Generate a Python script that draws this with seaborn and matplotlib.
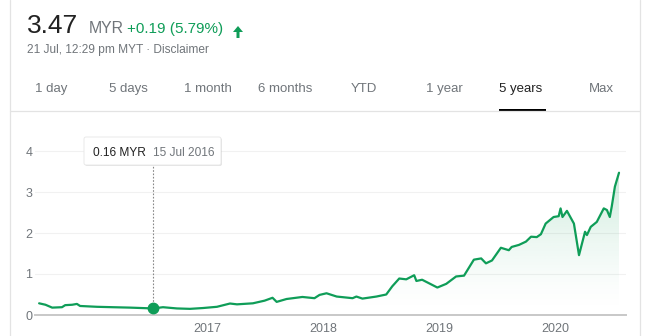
import numpy as np
import pandas as pd
import matplotlib
matplotlib.use("Agg")
import matplotlib.pyplot as plt
import matplotlib.dates as mdates
import matplotlib.transforms as mtransforms
from matplotlib.patches import FancyBboxPatch, FancyArrow
import seaborn as sns

# ---------------- data ----------------
dates = [
    "2015-07-22", "2015-08-11", "2015-09-01", "2015-10-02", "2015-10-12", "2015-11-03",
    "2015-11-18", "2015-11-28", "2016-01-20", "2016-03-10", "2016-05-03", "2016-07-15",
    "2016-08-15", "2016-09-28", "2016-11-08", "2016-12-19", "2017-02-01", "2017-03-14",
    "2017-04-05", "2017-05-25", "2017-07-01", "2017-07-26", "2017-08-08", "2017-09-08",
    "2017-10-28", "2017-12-05", "2017-12-21", "2018-01-12", "2018-02-13", "2018-04-04",
    "2018-04-16", "2018-05-05", "2018-06-18", "2018-07-19", "2018-08-07", "2018-08-29",
    "2018-09-20", "2018-10-15", "2018-10-22", "2018-11-09", "2018-12-27", "2019-01-24",
    "2019-02-24", "2019-03-21", "2019-04-21", "2019-05-14", "2019-05-29", "2019-06-17",
    "2019-07-15", "2019-08-09", "2019-08-18", "2019-09-10", "2019-10-02", "2019-10-18",
    "2019-11-05", "2019-11-18", "2019-12-03", "2019-12-28", "2020-01-13", "2020-01-19",
    "2020-01-25", "2020-02-08", "2020-03-01", "2020-03-17", "2020-04-05", "2020-04-11",
    "2020-04-23", "2020-05-12", "2020-06-03", "2020-06-13", "2020-06-22", "2020-06-28",
    "2020-07-08", "2020-07-21",
]
prices = [
    0.285, 0.25, 0.18, 0.19, 0.24, 0.25,
    0.27, 0.22, 0.20, 0.19, 0.18, 0.16,
    0.19, 0.16, 0.15, 0.17, 0.20, 0.28,
    0.26, 0.285, 0.35, 0.42, 0.32, 0.39,
    0.44, 0.41, 0.49, 0.53, 0.45, 0.41,
    0.45, 0.40, 0.45, 0.50, 0.70, 0.89,
    0.87, 0.97, 0.83, 0.86, 0.67, 0.76,
    0.94, 0.96, 1.35, 1.38, 1.26, 1.33,
    1.64, 1.58, 1.66, 1.71, 1.79, 1.91,
    1.90, 1.97, 2.23, 2.39, 2.41, 2.60,
    2.39, 2.54, 2.23, 1.46, 2.03, 1.95,
    2.15, 2.27, 2.60, 2.56, 2.39, 2.64,
    3.13, 3.47,
]
y_ticks = [0, 1, 2, 3, 4]
year_labels = ["2017", "2018", "2019", "2020"]
tabs = ["1 day", "5 days", "1 month", "6 months", "YTD", "1 year", "5 years", "Max"]
selected_tab = "5 years"
quote_price = "3.47"
quote_ccy = "MYR"
quote_change = "+0.19 (5.79%)"
quote_time = "21 Jul, 12:29 pm MYT · Disclaimer"
tip_date = "2016-07-15"
tip_value = 0.16
tip_value_text = "0.16 MYR"
tip_date_text = "15 Jul 2016"

# ---------------- style ----------------
W, H = 646, 336
GREEN = "#0f9d58"
GREY = "#70757a"
DARK = "#222222"

sns.set_theme(style="white")
plt.rcParams["font.family"] = ["Liberation Sans", "DejaVu Sans"]

fig = plt.figure(figsize=(W / 100, H / 100), dpi=100)
pix = mtransforms.Affine2D().scale(1 / W, -1 / H).translate(0, 1) + fig.transFigure

# axes: x 35..626 px, y 140..315 px
ax_l, ax_r, ax_t, ax_b = 35, 626, 140, 315
ax = fig.add_axes([ax_l / W, 1 - ax_b / H, (ax_r - ax_l) / W, (ax_b - ax_t) / H])

df = pd.DataFrame({"date": pd.to_datetime(dates), "price": prices})
xnum = mdates.date2num(df["date"])

ytop = (ax_b - ax_t) / 41.0
xlim = (pd.Timestamp("2015-07-09"), pd.Timestamp("2020-08-12"))

# gradient fill under the line
poly = ax.fill_between(df["date"], df["price"], 0, color="none", lw=0)
ny = 300
yy = np.linspace(0, ytop, ny)
rgba = np.zeros((ny, 1, 4))
rgba[..., :3] = matplotlib.colors.to_rgb(GREEN)
rgba[:, 0, 3] = 0.22 * np.clip(yy / 3.6, 0, 1) ** 1.5
im = ax.imshow(rgba, extent=[xnum[0], xnum[-1], 0, ytop], origin="lower",
               aspect="auto", zorder=1, interpolation="bilinear")
im.set_clip_path(poly.get_paths()[0], transform=ax.transData)

sns.lineplot(data=df, x="date", y="price", ax=ax, color=GREEN, linewidth=1.6, zorder=3)

ax.set_xlim(*xlim)
ax.set_ylim(0, ytop)

# grid
for v in y_ticks[1:]:
    ax.axhline(v, color="#f1f1f1", lw=0.8, zorder=0)
ax.set_yticks(y_ticks)
ax.set_yticklabels([str(v) for v in y_ticks])
ax.set_xticks([pd.Timestamp(f"{y}-01-01") for y in year_labels])
ax.set_xticklabels(year_labels)
ax.tick_params(axis="y", length=0, pad=2, labelsize=9, labelcolor=GREY)
ax.tick_params(axis="x", length=4, width=0.8, color="#c8c8c8", pad=1.5,
               labelsize=9, labelcolor=GREY, direction="out")
ax.set_xlabel("")
ax.set_ylabel("")
for s in ["top", "right", "left"]:
    ax.spines[s].set_visible(False)
ax.spines["bottom"].set_color("#c8c8c8")
ax.spines["bottom"].set_linewidth(1.4)
ax.set_facecolor("none")

# hover point & dotted line
td = pd.Timestamp(tip_date)
tip_box_bottom_px = 165
y_tip_bottom = (ax_b - tip_box_bottom_px) / 41.0
ax.plot([td, td], [tip_value, y_tip_bottom], color="#888888", lw=0.8,
        ls=(0, (1.5, 1.5)), zorder=2, clip_on=False)
ax.plot([td], [tip_value], marker="o", ms=7.5, color=GREEN, zorder=4)

# tooltip box (pixel layout)
shadow = FancyBboxPatch((85, 138), 137, 28, boxstyle="round,pad=0,rounding_size=2",
                        transform=pix, facecolor="#000000", alpha=0.10, lw=0, zorder=5)
box = FancyBboxPatch((84, 137), 137, 28, boxstyle="round,pad=0,rounding_size=2",
                     transform=pix, facecolor="white", edgecolor="#e6e6e6", lw=0.6, zorder=6)
fig.patches.extend([shadow, box])
fig.text(93, 155.5, tip_value_text, transform=pix, fontsize=8.6, color=DARK,
         va="baseline", ha="left", zorder=7)
fig.text(153, 155.5, tip_date_text, transform=pix, fontsize=8.6, color=GREY,
         va="baseline", ha="left", zorder=7)

# header
fig.text(27, 33, quote_price, transform=pix, fontsize=19, color=DARK, va="baseline")
fig.text(89, 33, quote_ccy, transform=pix, fontsize=11.4, color=GREY, va="baseline")
fig.text(127, 33, quote_change, transform=pix, fontsize=11.0, color=GREEN, va="baseline")
arrow = FancyArrow(238, 38, 0, -12, width=3, head_width=10, head_length=6,
                   length_includes_head=True, transform=pix, color=GREEN, lw=0)
fig.patches.append(arrow)
fig.text(27, 53, quote_time, transform=pix, fontsize=8.6, color=GREY, va="baseline")

# tabs
tab_x = [35, 109, 184, 258.5, 351, 426, 499, 589]
for name, x in zip(tabs, tab_x):
    fig.text(x, 92, name, transform=pix, fontsize=9.5,
             color=DARK if name == selected_tab else GREY, va="baseline", ha="left")
fig.lines.append(matplotlib.lines.Line2D([10, 640], [110.5, 110.5], transform=pix,
                                         color="#e3e3e3", lw=0.9))
fig.patches.append(matplotlib.patches.Rectangle((499, 109), 47, 3, transform=pix,
                                                facecolor="black", lw=0))
# card borders
for xb in (10, 640):
    fig.lines.append(matplotlib.lines.Line2D([xb, xb], [0, H], transform=pix,
                                             color="#e3e3e3", lw=0.9))

fig.savefig("out.png", dpi=100, facecolor="white")
